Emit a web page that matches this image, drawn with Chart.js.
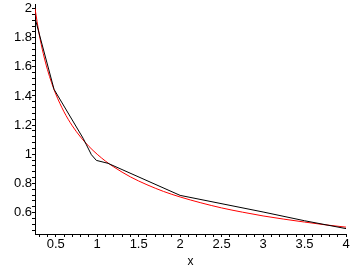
<!DOCTYPE html>
<html>
<head>
<meta charset="utf-8">
<script src="https://cdn.jsdelivr.net/npm/chart.js@4"></script>
<style>
  html, body { margin: 0; padding: 0; background: #fff; }
  #chart { display: block; }
</style>
</head>
<body>
<canvas id="chart" width="362" height="269"></canvas>
<script>
// values
const blackX = [0.25, 0.48, 0.83, 0.87, 0.93, 0.99, 1.13, 2, 3, 3.5, 4];
const blackY = [1.935, 1.445, 1.11, 1.065, 0.997, 0.958, 0.938, 0.718, 0.604, 0.544, 0.49];
const redX = [0.25, 0.3, 0.35, 0.4, 0.45, 0.5, 0.6, 0.7, 0.8, 0.9, 1, 1.1, 1.2, 1.4, 1.6, 1.8, 2, 2.25, 2.5, 2.75, 3, 3.25, 3.5, 3.75, 4];
const redY = [2.0, 1.826, 1.69, 1.581, 1.491, 1.414, 1.291, 1.195, 1.118, 1.054, 1.0, 0.953, 0.913, 0.845, 0.791, 0.745, 0.707, 0.667, 0.632, 0.603, 0.577, 0.555, 0.535, 0.516, 0.5];
const xLabelTicks = [0.5, 1, 1.5, 2, 2.5, 3, 3.5, 4];
const yLabelTicks = [0.6, 0.8, 1, 1.2, 1.4, 1.6, 1.8, 2];
const xRange = [0.25, 4];
const yRange = [0.453, 2.031];

const pts = (xs, ys) => xs.map((x, i) => ({ x, y: ys[i] }));
const isMajor = (list, v) => list.some(t => Math.abs(t - v) < 1e-6);
const tickFont = { family: '"Liberation Sans", Arial, sans-serif', size: 13 };
const noPad = s => { s.paddingLeft = s.paddingRight = s.paddingTop = s.paddingBottom = 0; };

const axisCommon = {
  type: 'linear',
  border: { display: true, color: '#000', width: 1 },
  grid: { drawOnChartArea: false, drawTicks: true, tickLength: 3, tickColor: '#000', tickWidth: 1 },
};

new Chart(document.getElementById('chart'), {
  type: 'scatter',
  data: {
    datasets: [
      { data: pts(blackX, blackY), showLine: true, borderColor: '#000', borderWidth: 1, pointRadius: 0 },
      { data: pts(redX, redY), showLine: true, borderColor: '#f00', borderWidth: 1, pointRadius: 0, cubicInterpolationMode: 'monotone' }
    ]
  },
  options: {
    responsive: false,
    animation: false,
    layout: { padding: { top: 4, right: 16, left: 0, bottom: 0 } },
    plugins: { legend: { display: false }, tooltip: { enabled: false } },
    scales: {
      x: {
        ...axisCommon,
        min: xRange[0], max: xRange[1],
        afterFit: s => { s.height = 35; noPad(s); },
        ticks: {
          stepSize: 0.1, includeBounds: false, autoSkip: false, maxRotation: 0, padding: 0,
          color: '#000', font: tickFont,
          callback: v => isMajor(xLabelTicks, v) ? String(v) : ''
        },
        title: { display: true, text: 'x', color: '#000', font: { family: tickFont.family, size: 12 }, padding: 0 }
      },
      y: {
        ...axisCommon,
        min: yRange[0], max: yRange[1],
        afterFit: s => { s.width = 35; noPad(s); },
        ticks: {
          stepSize: 0.04, includeBounds: false, autoSkip: false, padding: 0,
          color: '#000', font: tickFont,
          callback: v => isMajor(yLabelTicks, v) ? String(v) : ''
        }
      }
    }
  }
});
</script>
</body>
</html>
